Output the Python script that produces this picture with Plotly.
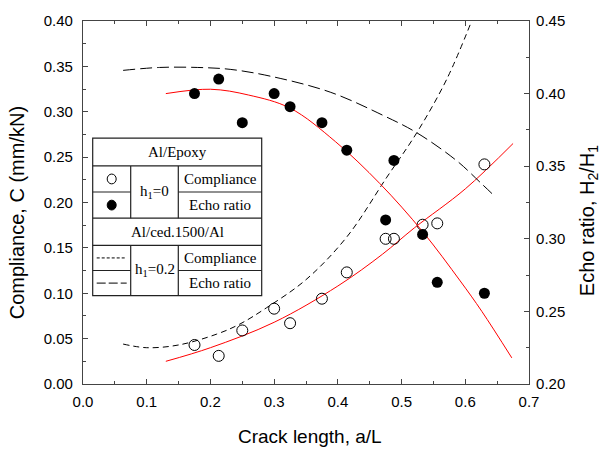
import plotly.graph_objects as go

# ---------------- data ----------------
crack_pts = [0.175, 0.213, 0.25, 0.30, 0.325, 0.375, 0.414, 0.475, 0.488, 0.533, 0.556, 0.63]
compliance_epoxy = [0.043, 0.031, 0.059, 0.083, 0.067, 0.094, 0.123, 0.160, 0.160, 0.1755, 0.177, 0.242]
echo_epoxy = [0.400, 0.410, 0.380, 0.400, 0.391, 0.380, 0.361, 0.313, 0.354, 0.303, 0.270, 0.2625]

fit_comp_x = [0.13, 0.20, 0.30, 0.40, 0.47, 0.52, 0.60, 0.675]
fit_comp_y = [0.025, 0.040, 0.068, 0.108, 0.143, 0.172, 0.215, 0.265]

fit_echo_x = [0.13, 0.20, 0.26, 0.325, 0.396, 0.466, 0.533, 0.592, 0.626, 0.673]
fit_echo_y = [0.400, 0.403, 0.399, 0.390, 0.367, 0.338, 0.305, 0.271, 0.250, 0.218]

ced_comp_x = [0.063, 0.10, 0.15, 0.21, 0.246, 0.288, 0.35, 0.414, 0.477, 0.524, 0.571, 0.61]
ced_comp_y = [0.044, 0.040, 0.043, 0.055, 0.066, 0.084, 0.115, 0.162, 0.228, 0.277, 0.336, 0.40]

ced_echo_x = [0.063, 0.12, 0.18, 0.231, 0.294, 0.388, 0.471, 0.524, 0.587, 0.623, 0.647]
ced_echo_y = [0.416, 0.418, 0.418, 0.4167, 0.412, 0.401, 0.385, 0.373, 0.3536, 0.339, 0.329]

x_ticks = [0.0, 0.1, 0.2, 0.3, 0.4, 0.5, 0.6, 0.7]
y_ticks = [0.00, 0.05, 0.10, 0.15, 0.20, 0.25, 0.30, 0.35, 0.40]
y2_ticks = [0.20, 0.25, 0.30, 0.35, 0.40, 0.45]

# ---------------- layout geometry ----------------
W, H = 601, 451
L, R, T, B = 83, 72, 14, 67
PW, PH = W - L - R, H - T - B


def px(x):
    return (x - L) / PW


def py(y):
    return (H - B - y) / PH


fig = go.Figure()

fig.add_trace(go.Scatter(x=ced_comp_x, y=ced_comp_y, mode="lines", line=dict(color="black", width=1, dash="6px,4px", shape="spline"), yaxis="y"))
fig.add_trace(go.Scatter(x=ced_echo_x, y=ced_echo_y, mode="lines", line=dict(color="black", width=1, dash="12px,5px", shape="spline"), yaxis="y2"))
fig.add_trace(go.Scatter(x=fit_comp_x, y=fit_comp_y, mode="lines", line=dict(color="red", width=1, shape="spline"), yaxis="y"))
fig.add_trace(go.Scatter(x=fit_echo_x, y=fit_echo_y, mode="lines", line=dict(color="red", width=1, shape="spline"), yaxis="y2"))
fig.add_trace(go.Scatter(x=crack_pts, y=compliance_epoxy, mode="markers",
                         marker=dict(symbol="circle-open", size=11, color="black", line=dict(width=1, color="black")), yaxis="y"))
fig.add_trace(go.Scatter(x=crack_pts, y=echo_epoxy, mode="markers",
                         marker=dict(symbol="circle", size=11, color="black"), yaxis="y2"))

axis_common = dict(
    showline=True, linecolor="#444", linewidth=1.2, ticks="inside", ticklen=5, tickwidth=1,
    tickcolor="#444", showgrid=False, zeroline=False,
    tickfont=dict(family="Liberation Sans, Arial", size=15, color="black"),
)

fig.update_layout(
    width=W, height=H, autosize=False,
    margin=dict(l=L, r=R, t=T, b=B, pad=0),
    plot_bgcolor="white", paper_bgcolor="white", showlegend=False,
    xaxis=dict(range=[0, 0.7], tickvals=x_ticks, ticktext=[f"{v:.1f}" for v in x_ticks], mirror="ticks",
               minor=dict(dtick=0.05, tick0=0, ticks="inside", ticklen=3, tickcolor="#444"),
               ticklabelstandoff=4, **axis_common),
    yaxis=dict(range=[0, 0.40], tickvals=y_ticks, ticktext=[f"{v:.2f}" for v in y_ticks],
               minor=dict(dtick=0.025, tick0=0, ticks="inside", ticklen=3, tickcolor="#444"),
               ticklabelstandoff=6, **axis_common),
    yaxis2=dict(range=[0.20, 0.45], overlaying="y", side="right", tickvals=y2_ticks,
                ticktext=[f"{v:.2f}" for v in y2_ticks],
                minor=dict(dtick=0.025, tick0=0.2, ticks="inside", ticklen=3, tickcolor="#444"),
                ticklabelstandoff=3, **axis_common),
)

title_font = dict(family="Liberation Sans, Arial", size=19, color="black")
vtitle_font = dict(family="Liberation Sans, Arial", size=20, color="black")
fig.add_annotation(x=px(310), y=py(438), xref="paper", yref="paper", text="Crack length, a/L",
                   showarrow=False, font=title_font, xanchor="center", yanchor="middle")
fig.add_annotation(x=px(17), y=py(210), xref="paper", yref="paper", text="Compliance, C (mm/kN)",
                   showarrow=False, font=vtitle_font, textangle=-90, xanchor="center", yanchor="middle")
fig.add_annotation(x=px(588), y=py(218), xref="paper", yref="paper", text="Echo ratio, H<sub>2</sub>/H<sub>1</sub>",
                   showarrow=False, font=vtitle_font, textangle=-90, xanchor="center", yanchor="middle")

# ---------------- legend table ----------------
bx0, bx1 = 92.7, 261.7
rows = [133.3, 161.7, 188.3, 215.0, 242.7, 268.3, 294.0]
c1, c2 = 130.7, 178.3
lc = "#222"


def hline(x0, x1, y):
    fig.add_shape(type="line", xref="paper", yref="paper", x0=px(x0), x1=px(x1), y0=py(y), y1=py(y),
                  line=dict(color=lc, width=1.2), layer="above")


def vline(x, y0, y1):
    fig.add_shape(type="line", xref="paper", yref="paper", x0=px(x), x1=px(x), y0=py(y0), y1=py(y1),
                  line=dict(color=lc, width=1.2), layer="above")


fig.add_shape(type="rect", xref="paper", yref="paper", x0=px(bx0), x1=px(bx1), y0=py(rows[-1]), y1=py(rows[0]),
              line=dict(color=lc, width=1.2), fillcolor="white", layer="above")
hline(bx0, bx1, rows[1])
hline(bx0, bx1, rows[3])
hline(bx0, bx1, rows[4])
hline(bx0, c1, rows[2]); hline(c2, bx1, rows[2])
hline(bx0, c1, rows[5]); hline(c2, bx1, rows[5])
vline(c1, rows[1], rows[3]); vline(c2, rows[1], rows[3])
vline(c1, rows[4], rows[6]); vline(c2, rows[4], rows[6])

lf = dict(family="Liberation Serif, Times New Roman", size=15, color="black")


def label(x, y, text):
    fig.add_annotation(x=px(x), y=py(y), xref="paper", yref="paper", text=text, showarrow=False,
                       font=lf, xanchor="center", yanchor="middle")


mid = (bx0 + bx1) / 2
label(mid, (rows[0] + rows[1]) / 2, "Al/Epoxy")
label((c1 + c2) / 2, rows[2], "h<sub>1</sub>=0")
label((c2 + bx1) / 2, (rows[1] + rows[2]) / 2, "Compliance")
label((c2 + bx1) / 2, (rows[2] + rows[3]) / 2, "Echo ratio")
label(mid, (rows[3] + rows[4]) / 2, "Al/ced.1500/Al")
label((c1 + c2) / 2, rows[5], "h<sub>1</sub>=0.2")
label((c2 + bx1) / 2, (rows[4] + rows[5]) / 2, "Compliance")
label((c2 + bx1) / 2, (rows[5] + rows[6]) / 2, "Echo ratio")

sx = (bx0 + c1) / 2
for yc, filled in [((rows[1] + rows[2]) / 2, False), ((rows[2] + rows[3]) / 2, True)]:
    fig.add_shape(type="circle", xref="paper", yref="paper", x0=px(sx - 4.5), x1=px(sx + 4.5),
                  y0=py(yc + 5), y1=py(yc - 5), line=dict(color="black", width=1),
                  fillcolor="black" if filled else "white", layer="above")
fig.add_shape(type="line", xref="paper", yref="paper", x0=px(bx0 + 4), x1=px(c1 - 4),
              y0=py((rows[4] + rows[5]) / 2), y1=py((rows[4] + rows[5]) / 2),
              line=dict(color="black", width=1, dash="3px,2px"), layer="above")
fig.add_shape(type="line", xref="paper", yref="paper", x0=px(bx0 + 4), x1=px(c1 - 4),
              y0=py((rows[5] + rows[6]) / 2), y1=py((rows[5] + rows[6]) / 2),
              line=dict(color="black", width=1, dash="9px,3px"), layer="above")

fig.write_html("out.html")
